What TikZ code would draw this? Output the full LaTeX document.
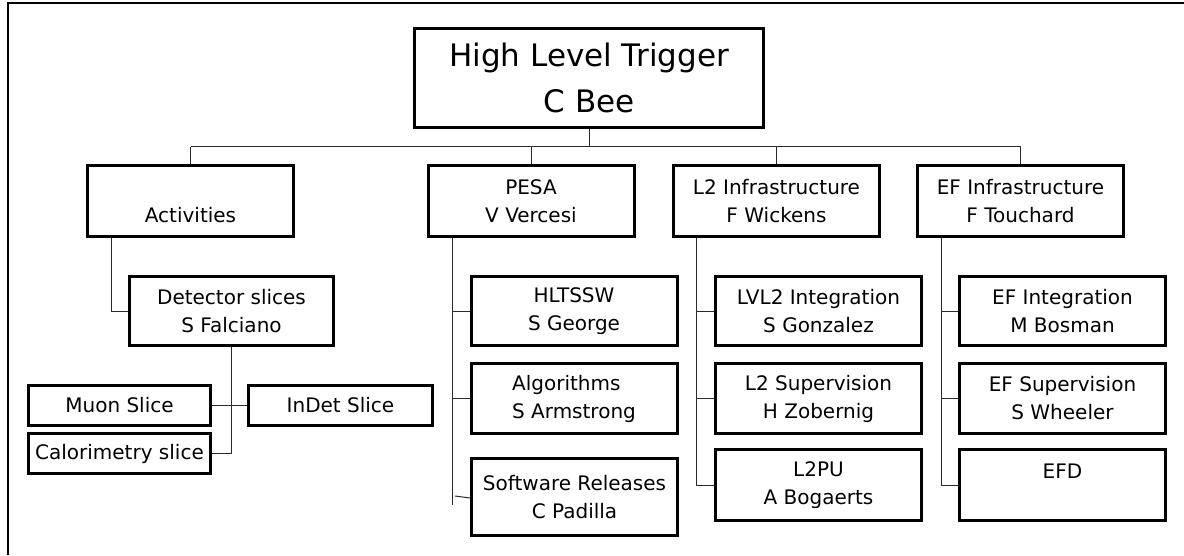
\documentclass[tikz,border=0pt]{standalone}
\usepackage{fontspec}
\setmainfont{DejaVu Sans}
\usetikzlibrary{
  positioning,
  shadows,
  calc,
}
\definecolor{border}{HTML}{000000}
\definecolor{shadowCol}{HTML}{9A9A9A}
\definecolor{linkCol}{HTML}{2B2B2B}
\tikzset{
  orgbox/.style={
    rectangle, draw=border, fill=white, line width=3pt, align=center,
    inner sep=2pt, font=\fontsize{20}{28}\selectfont,
    drop shadow={shadow xshift=1.3pt, shadow yshift=-1.3pt, fill=shadowCol, opacity=1},
  },
  headbox/.style={
    orgbox, font=\fontsize{31}{46}\selectfont,
  },
  groupbox/.style={
    orgbox, minimum width=206pt, minimum height=71pt,
  },
  taskbox/.style={
    orgbox, minimum width=206pt, minimum height=70pt,
  },
  slicebox/.style={
    orgbox, minimum height=40pt,
  },
  link/.style={draw=linkCol, line width=1pt},
  frameline/.style={draw=border, line width=2pt},
}

\begin{document}
\begin{tikzpicture}[x=1pt, y=-1pt]
  \useasboundingbox (0,0) rectangle (1184,556);

  % Frame
  \draw[frameline] (8,555) -- (8,3) -- (1184,3);

  % Head
  \node[headbox, minimum width=349pt, minimum height=99pt] (hlt) at (589,78) {High Level Trigger\\C Bee};

  % Groups
  \node[groupbox] (act) at (190.5,201) {\phantom{X}\\Activities};
  \node[groupbox] (pesa) at (531,201) {PESA\\V Vercesi};
  \node[groupbox] (l2) at (776.5,201) {L2 Infrastructure\\F Wickens};
  \node[groupbox] (ef) at (1020.5,201) {EF Infrastructure\\F Touchard};

  \coordinate (bus) at (0,147);
  \draw[link] (hlt.south) -- (hlt.south |- bus);
  \draw[link] (act.north |- bus) -- (ef.north |- bus);
  \foreach \g in {act,pesa,l2,ef}
    \draw[link] (\g.north |- bus) -- (\g.north);

  % Activities
  \node[taskbox, minimum width=204pt, minimum height=69pt] (det) at (231.5,311) {Detector slices\\S Falciano};
  \node[slicebox, minimum width=182pt] (muon) at (119.5,405.5) {Muon Slice};
  \node[slicebox, minimum width=184pt] (indet) at (340.5,405.5) {InDet Slice};
  \node[slicebox, minimum width=182pt] (calo) at (119.5,453.5) {Calorimetry slice};

  \draw[link] ([xshift=-79.5pt]act.south) |- (det.west);
  \draw[link] (det.south) |- (calo.east);
  \draw[link] (muon.east) -- (indet.west);

  % PESA
  \node[taskbox, minimum height=69pt] (hltssw) at (574,311) {HLTSSW\\S George};
  \node[taskbox, align=left] (algo) at (574,398.5) {Algorithms\\S Armstrong};
  \node[taskbox, minimum height=77pt] (soft) at (574.5,497) {Software Releases\\C Padilla};

  \coordinate (pesaend) at (452,505);
  \draw[link] (pesaend |- pesa.south) -- (pesaend);
  \foreach \c in {hltssw,algo}
    \draw[link] (pesaend |- \c.west) -- (\c.west);
  \draw[link] ([xshift=3pt,yshift=1pt]pesaend |- soft.west) -- ([yshift=-1pt]soft.west);

  % L2 Infrastructure
  \node[taskbox, minimum height=69pt] (lvl2) at (818.5,311) {LVL2 Integration\\S Gonzalez};
  \node[taskbox] (l2sup) at (818.5,398.5) {L2 Supervision\\H Zobernig};
  \node[taskbox, minimum height=71pt] (l2pu) at (818.5,485) {L2PU\\A Bogaerts};

  \coordinate (l2spine) at (696,0);
  \draw[link] (l2spine |- l2.south) |- (l2pu.west);
  \foreach \c in {lvl2,l2sup}
    \draw[link] (l2spine |- \c.west) -- (\c.west);

  % EF Infrastructure
  \node[taskbox, minimum height=69pt] (efint) at (1062.5,311) {EF Integration\\M Bosman};
  \node[taskbox] (efsup) at (1062.5,398.5) {EF Supervision\\S Wheeler};
  \node[taskbox, minimum height=71pt] (efd) at (1062.5,485) {EFD\\\phantom{X}};

  \coordinate (efspine) at (941,0);
  \draw[link] (efspine |- ef.south) |- (efd.west);
  \foreach \c in {efint,efsup}
    \draw[link] (efspine |- \c.west) -- (\c.west);

\end{tikzpicture}
\end{document}
